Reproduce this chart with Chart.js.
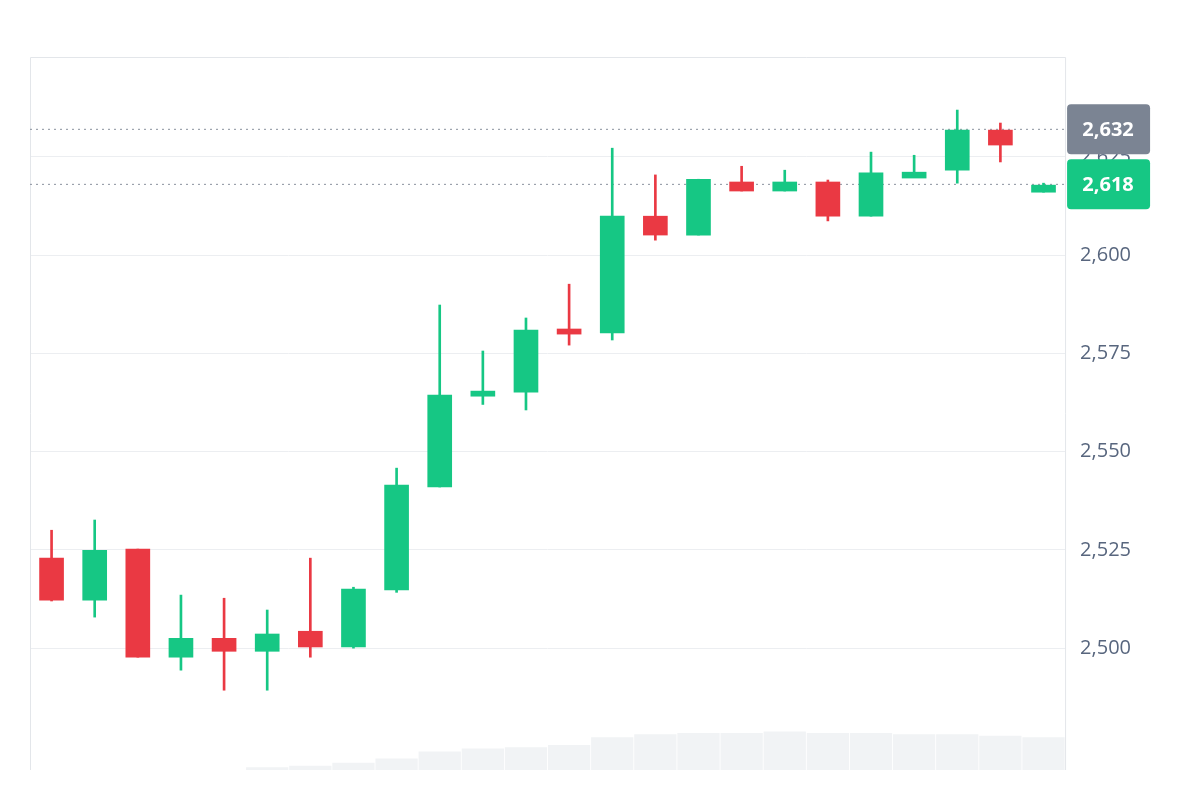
<!DOCTYPE html>
<html><head><meta charset="utf-8">
<script src="https://cdn.jsdelivr.net/npm/chart.js@4/dist/chart.umd.min.js"></script>
<style>html,body{margin:0;background:#fff}#w{position:absolute;left:0;top:0;width:1200px;height:800px}</style>
</head><body><div id="w"><canvas id="c"></canvas></div>
<script>
const labels = Array.from({length:24},(_,i)=>String(i+1));
const opens  = [2522.9,2512.2,2525.2,2497.7,2502.5,2499.2,2504.3,2500.3,2514.8,2541.0,2564.1,2565.1,2581.2,2580.2,2609.9,2605.1,2618.6,2616.3,2618.6,2609.9,2619.6,2621.6,2631.8,2616.0];
const highs  = [2530.0,2532.6,2525.2,2513.5,2512.7,2509.7,2522.9,2515.5,2545.8,2587.3,2575.6,2584.0,2592.6,2627.2,2620.4,2619.3,2622.6,2621.6,2619.1,2626.2,2625.4,2636.9,2633.6,2618.3];
const lows   = [2512.0,2507.9,2497.7,2494.4,2489.3,2489.3,2497.7,2500.0,2514.2,2541.0,2562.0,2560.6,2577.1,2578.4,2603.8,2605.1,2616.3,2616.3,2608.7,2609.9,2620.1,2618.3,2623.7,2616.0];
const closes = [2512.2,2524.9,2497.7,2502.5,2499.2,2503.6,2500.3,2515.0,2541.5,2564.4,2565.4,2580.9,2579.9,2609.9,2605.1,2619.3,2616.3,2618.6,2609.9,2620.9,2621.1,2631.8,2628.0,2617.8];
const volumes= [0,0,0,0,0,0.4,0.6,1.0,1.6,2.6,3.0,3.2,3.5,4.6,5.0,5.2,5.2,5.4,5.2,5.2,5.0,5.0,4.8,4.6];
const yTicks = [2500,2525,2550,2575,2600,2625];
const markLines = [{v:2632,label:'2,632',color:'#7b8493'},{v:2618,label:'2,618',color:'#16c784'}];
const GREEN='#16c784', RED='#ea3943';
const col = opens.map((o,i)=>closes[i]>=o?GREEN:RED);
const bodies = opens.map((o,i)=>[Math.min(o,closes[i]),Math.max(o,closes[i])+(Math.abs(o-closes[i])<0.6?0.6:0)]);
const wicks = lows.map((l,i)=>[l,highs[i]]);
const fmt = v=>v.toLocaleString('en-US');
const overlay = {id:'ov',
  beforeDatasetsDraw(ch){const c=ch.ctx,a=ch.chartArea,y=ch.scales.y;
    c.save();c.strokeStyle='#e3e6ea';c.lineWidth=1;c.beginPath();
    c.moveTo(a.left+0.5,a.bottom);c.lineTo(a.left+0.5,a.top+0.5);c.lineTo(a.right+0.5,a.top+0.5);c.lineTo(a.right+0.5,a.bottom);c.stroke();
    c.setLineDash([2,4]);c.strokeStyle='#8a919e';
    markLines.forEach(m=>{const py=y.getPixelForValue(m.v);c.beginPath();c.moveTo(a.left,py);c.lineTo(a.right,py);c.stroke();});
    c.restore();},
  afterDraw(ch){const c=ch.ctx,a=ch.chartArea,y=ch.scales.y;c.save();
    markLines.forEach(m=>{const py=y.getPixelForValue(m.v);c.fillStyle=m.color;
      c.beginPath();c.roundRect(a.right+2,py-25,83,50,4);c.fill();
      c.fillStyle='#fff';c.font='bold 20px "Open Sans", sans-serif';c.textAlign='center';c.textBaseline='middle';
      c.fillText(m.label,a.right+43,py+1);});
    c.restore();}};
new Chart(document.getElementById('c'),{
  type:'bar',
  data:{labels,datasets:[
    {data:volumes,yAxisID:'v',backgroundColor:'#f1f3f5',categoryPercentage:0.98,barPercentage:1,grouped:false,order:3},
    {data:wicks,backgroundColor:col,barThickness:2,grouped:false,order:2},
    {data:bodies,backgroundColor:col,barThickness:24,grouped:false,order:1}
  ]},
  options:{responsive:true,maintainAspectRatio:false,animation:false,
    layout:{padding:{left:30,right:54,top:57,bottom:22}},
    plugins:{legend:{display:false},tooltip:{enabled:false}},
    scales:{
      x:{offset:true,grid:{display:false},border:{display:false},ticks:{display:false}},
      y:{position:'right',min:2469,max:2650.4,afterBuildTicks(ax){ax.ticks=yTicks.map(v=>({value:v}));},
        grid:{color:'#eceef1',drawTicks:false},border:{display:false},
        ticks:{padding:15,color:'#58667e',font:{size:20,family:'"Open Sans", sans-serif'},callback:v=>fmt(v)}},
      v:{display:false,min:0,max:100}
    }},
  plugins:[overlay]});
</script></body></html>
